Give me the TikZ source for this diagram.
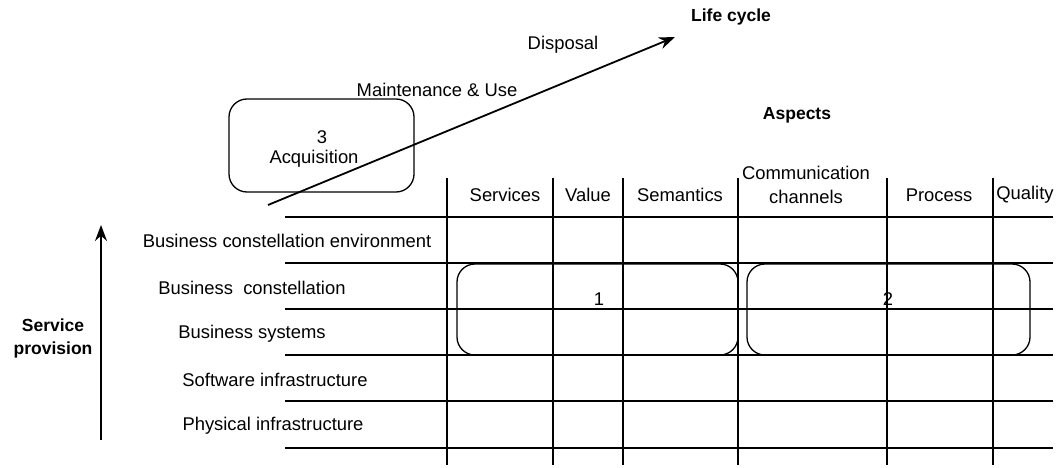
\documentclass[tikz,border=0pt]{standalone}
\usepackage{fontspec}
\setmainfont{Liberation Sans}
\usetikzlibrary{arrows.meta}

\tikzset{
  rule/.style={line width=1.8pt},
  phasebox/.style={draw, line width=1.3pt, rounded corners=18pt, inner sep=0pt},
  axistitle/.style={font=\fontsize{17.5}{23}\selectfont\bfseries, align=center},
  axisarrow/.style={line width=1.8pt, -{Stealth[length=16pt,width=12pt]}},
}

\begin{document}
\begin{tikzpicture}[x=1pt, y=-1pt, font=\fontsize{18.4}{21}\selectfont]
\useasboundingbox (0,0) rectangle (1058,468);

% table rules
\foreach \y in {217,263,309,355,401,448}
  \draw[rule] (285,\y) -- (1053,\y);
\foreach \x in {447,553,623,738,887,993}
  \draw[rule] (\x,178) -- (\x,465);

% aspects
\path (797,115) node[axistitle] (aspects) {Aspects};
\path (505,195) node (services) {Services};
\path (588,195) node (value) {Value};
\path (680,195) node (semantics) {Semantics};
\path (806,185) node[align=center] (channels) {Communication\\[3pt]channels};
\path (939,195) node (process) {Process};
\path (1025,195) node (quality) {Quality};

% levels
\path (287,241) node (bce) {Business constellation environment};
\path (252,288) node (bc) {Business\ \ constellation};
\path (252,334) node (bs) {Business systems};
\path (275,380) node (swi) {Software infrastructure};
\path (273,426) node (phi) {Physical infrastructure};

% service provision axis
\coordinate (sp bottom) at (101,440);
\coordinate (sp top) at (101,225);
\draw[axisarrow] (sp bottom) -- (sp top);
\path (53,338) node[axistitle] (provision) {Service\\provision};

% areas 1 and 2
\path (597.5,309.5) node[phasebox, minimum width=281pt, minimum height=91pt] (area1) {};
\path (888.5,309.5) node[phasebox, minimum width=283pt, minimum height=91pt] (area2) {};
\path (599,299) node (one) {1};
\path (888,299) node (two) {2};

% acquisition
\path (321.5,145.5) node[phasebox, minimum width=185pt, minimum height=93pt] (acq) {};
\path (322,137) node (three) {3};
\path (314,159) node (acqtext) {Acquisition};

% life cycle axis
\coordinate (lc start) at (268,205);
\coordinate (lc end) at (675,37);
\draw[axisarrow] (lc start) -- (lc end);
\path (731,17) node[axistitle] (lifecycle) {Life cycle};
\path (563,45) node (disposal) {Disposal};
\path (437,90) node (maint) {Maintenance \& Use};
\end{tikzpicture}
\end{document}
